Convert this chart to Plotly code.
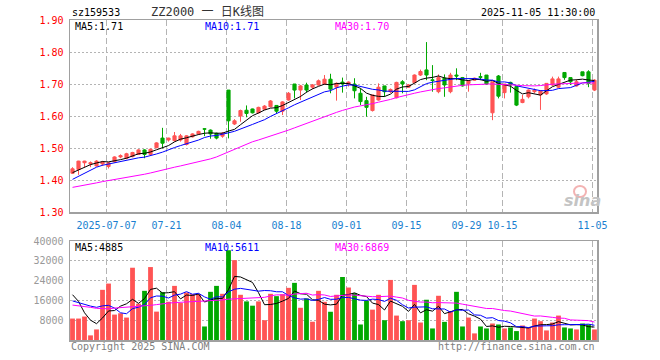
import plotly.graph_objects as go

# ---------------- data ----------------
tick_idx = [6, 16, 26, 36, 46, 56, 66, 72, 87]
tick_text = ["2025-07-07", "07-21", "08-04", "08-18", "09-01", "09-15", "09-29", "10-15", "11-05"]

opens = [1.421, 1.433, 1.454, 1.450, 1.444, 1.450, 1.442, 1.457, 1.472, 1.468,
         1.473, 1.480, 1.494, 1.480, 1.501, 1.531, 1.525, 1.523, 1.525, 1.511,
         1.535, 1.544, 1.560, 1.556, 1.546, 1.537, 1.681, 1.575, 1.600, 1.618,
         1.622, 1.610, 1.621, 1.629, 1.633, 1.615, 1.650, 1.700, 1.681, 1.697,
         1.690, 1.697, 1.700, 1.715, 1.690, 1.706, 1.700, 1.700, 1.671, 1.648,
         1.617, 1.650, 1.694, 1.676, 1.657, 1.707, 1.690, 1.704, 1.728, 1.744,
         1.713, 1.676, 1.718, 1.676, 1.728, 1.720, 1.702, 1.712, 1.723, 1.728,
         1.610, 1.725, 1.673, 1.705, 1.692, 1.642, 1.660, 1.676, 1.666, 1.669,
         1.697, 1.690, 1.736, 1.720, 1.694, 1.738, 1.738, 1.681]
highs = [1.440, 1.460, 1.460, 1.458, 1.462, 1.460, 1.456, 1.474, 1.480, 1.485,
         1.488, 1.496, 1.496, 1.498, 1.518, 1.563, 1.532, 1.550, 1.544, 1.540,
         1.546, 1.554, 1.561, 1.558, 1.548, 1.550, 1.681, 1.590, 1.620, 1.633,
         1.623, 1.629, 1.634, 1.650, 1.633, 1.646, 1.675, 1.700, 1.697, 1.704,
         1.700, 1.714, 1.728, 1.732, 1.705, 1.720, 1.708, 1.718, 1.686, 1.660,
         1.666, 1.702, 1.694, 1.686, 1.707, 1.712, 1.700, 1.730, 1.745, 1.831,
         1.759, 1.730, 1.730, 1.735, 1.749, 1.722, 1.712, 1.720, 1.735, 1.728,
         1.707, 1.728, 1.700, 1.707, 1.692, 1.666, 1.683, 1.686, 1.681, 1.702,
         1.723, 1.723, 1.736, 1.720, 1.715, 1.738, 1.743, 1.715]
lows = [1.419, 1.416, 1.440, 1.440, 1.442, 1.444, 1.436, 1.455, 1.468, 1.465,
        1.471, 1.478, 1.468, 1.478, 1.499, 1.499, 1.520, 1.520, 1.520, 1.508,
        1.533, 1.541, 1.537, 1.529, 1.527, 1.532, 1.530, 1.572, 1.582, 1.596,
        1.608, 1.608, 1.619, 1.627, 1.608, 1.603, 1.648, 1.655, 1.650, 1.673,
        1.684, 1.695, 1.697, 1.671, 1.648, 1.673, 1.692, 1.655, 1.634, 1.598,
        1.614, 1.648, 1.660, 1.672, 1.655, 1.671, 1.688, 1.702, 1.725, 1.712,
        1.676, 1.671, 1.660, 1.671, 1.712, 1.692, 1.676, 1.710, 1.712, 1.697,
        1.587, 1.655, 1.655, 1.673, 1.631, 1.640, 1.655, 1.671, 1.619, 1.666,
        1.694, 1.687, 1.713, 1.697, 1.692, 1.724, 1.690, 1.678]
closes = [1.435, 1.459, 1.459, 1.454, 1.459, 1.457, 1.454, 1.472, 1.476, 1.482,
          1.486, 1.494, 1.480, 1.496, 1.516, 1.515, 1.531, 1.538, 1.538, 1.538,
          1.544, 1.552, 1.559, 1.544, 1.531, 1.546, 1.585, 1.585, 1.617, 1.608,
          1.610, 1.627, 1.631, 1.647, 1.615, 1.644, 1.671, 1.681, 1.694, 1.681,
          1.697, 1.710, 1.715, 1.684, 1.702, 1.700, 1.706, 1.679, 1.645, 1.627,
          1.666, 1.690, 1.676, 1.683, 1.705, 1.700, 1.697, 1.728, 1.739, 1.728,
          1.711, 1.720, 1.697, 1.728, 1.725, 1.694, 1.710, 1.718, 1.721, 1.700,
          1.707, 1.662, 1.700, 1.697, 1.634, 1.652, 1.681, 1.681, 1.678, 1.702,
          1.716, 1.716, 1.720, 1.707, 1.707, 1.726, 1.702, 1.712]
volumes = [8667, 8667, 9467, 1867, 4267, 20267, 22800, 10267, 10800, 9067,
           29200, 14667, 19867, 29467, 11467, 19333, 15467, 21867, 14933, 19200,
           18533, 18533, 5467, 19467, 21867, 18667, 36267, 32267, 18267, 15600,
           13867, 15600, 8000, 18667, 17718, 18523, 21074, 23087, 13020, 16779,
           7383, 19866, 15436, 11409, 18267, 25467, 21200, 18933, 6267, 15867,
           12267, 18267, 8000, 24267, 9867, 7600, 8000, 22267, 7067, 16267,
           4667, 17867, 7333, 11600, 19467, 5467, 9067, 2667, 5467, 4667,
           6667, 6267, 4667, 5067, 3600, 5867, 5067, 8667, 7600, 3867,
           7067, 9867, 5067, 4667, 4267, 6667, 6267, 4267]

# moving-average values shown before enough bars exist in the window
ma5_head = [1.423, 1.432, 1.441, 1.448]
ma10_head = [1.402, 1.412, 1.422, 1.432, 1.440, 1.446, 1.450, 1.454, 1.457]
ma30_head = [1.377, 1.380, 1.384, 1.387, 1.391, 1.395, 1.398, 1.401, 1.404, 1.407,
             1.410, 1.414, 1.418, 1.422, 1.427, 1.432, 1.436, 1.440, 1.444, 1.448,
             1.452, 1.456, 1.460, 1.466, 1.472, 1.480, 1.490, 1.498, 1.506]
vma5_head = [18300, 15600, 11000, 8000]
vma10_head = [15800, 15000, 14500, 13700, 13200, 13800, 14000, 12900, 11000]
vma30_head = [14100, 13900, 13600, 13200, 12800, 12600, 12600, 12900, 13100, 13100,
              13200, 13400, 13700, 14000, 14300, 14700, 14900, 15100, 15300, 15400,
              15500, 15600, 15700, 15800, 16000, 16200, 16500, 16600, 16700]


def sma(vals, n, head):
    out = []
    for i in range(len(vals)):
        if i < n - 1:
            out.append(head[i])
        else:
            out.append(sum(vals[i - n + 1:i + 1]) / n)
    return out


idx = list(range(len(closes)))
ma5 = sma(closes, 5, ma5_head)
ma10 = sma(closes, 10, ma10_head)
ma30 = sma(closes, 30, ma30_head)
vma5 = sma(volumes, 5, vma5_head)
vma10 = sma(volumes, 10, vma10_head)
vma30 = sma(volumes, 30, vma30_head)

RED = "#ff5454"
GREEN = "#00a800"
vol_colors = [RED if c >= o else GREEN for o, c in zip(opens, closes)]

fig = go.Figure()
fig.add_trace(go.Candlestick(
    x=idx, open=opens, high=highs, low=lows, close=closes,
    increasing=dict(line=dict(color=RED, width=1), fillcolor=RED),
    decreasing=dict(line=dict(color=GREEN, width=1), fillcolor=GREEN),
    whiskerwidth=0, xaxis="x", yaxis="y", showlegend=False))
for vals, col in [(ma5, "black"), (ma10, "#0000ff"), (ma30, "#ff00ff")]:
    fig.add_trace(go.Scatter(x=idx, y=vals, mode="lines", line=dict(color=col, width=1),
                             xaxis="x", yaxis="y", showlegend=False))
fig.add_trace(go.Bar(x=idx, y=volumes, marker=dict(color=vol_colors, line=dict(width=0)),
                     width=0.8, xaxis="x2", yaxis="y2", showlegend=False))
for vals, col in [(vma5, "black"), (vma10, "#0000ff"), (vma30, "#ff00ff")]:
    fig.add_trace(go.Scatter(x=idx, y=vals, mode="lines", line=dict(color=col, width=1),
                             xaxis="x2", yaxis="y2", showlegend=False))

L, R, T, B = 70, 597, 20, 340
W, H = 660, 360


def px(x):
    return (x - L) / (R - L)


def py(y):
    return (B - y) / (B - T)


FONT = "DejaVu Sans Mono, Liberation Mono, monospace"
FRAME = "#a0a0a0"
GRID = "#b4b4b4"
xr = [-0.42, len(closes) - 1 + 0.42]
tv = [i - 0.33 for i in tick_idx]

common_x = dict(range=xr, tickvals=tv, showgrid=True, gridcolor=GRID, gridwidth=1,
                griddash="6px,3px", showline=True, mirror=True, linecolor=FRAME,
                linewidth=1.5, zeroline=False, fixedrange=True)
fig.update_layout(
    width=W, height=H, paper_bgcolor="white", plot_bgcolor="white",
    margin=dict(l=L, r=W - R, t=T, b=H - B),
    font=dict(family=FONT, size=10),
    boxgap=0.25, bargap=0.2, hovermode=False,
    xaxis=dict(domain=[0, 1], anchor="y", ticktext=tick_text, ticks="outside", ticklen=3,
               tickcolor="rgba(0,0,0,0)", tickfont=dict(color="#1a7fd0", size=10),
               rangeslider=dict(visible=False), **common_x),
    yaxis=dict(domain=[py(212), 1], anchor="x", range=[1.30, 1.90],
               tickvals=[1.30, 1.40, 1.50, 1.60, 1.70, 1.80, 1.90],
               ticktext=["1.30", "1.40", "1.50", "1.60", "1.70", "1.80", "1.90"],
               tickfont=dict(color="#ff0000", size=10), ticks="outside", ticklen=3,
               tickcolor="rgba(0,0,0,0)", showgrid=True, gridcolor=GRID,
               griddash="2px,2px", showline=True, mirror=True, linecolor=FRAME,
               linewidth=1.5, zeroline=False, fixedrange=True),
    xaxis2=dict(domain=[0, 1], anchor="y2", showticklabels=False, ticks="", **common_x),
    yaxis2=dict(domain=[0, py(241)], anchor="x2", range=[0, 40000],
                tickvals=[8000, 16000, 24000, 32000, 40000],
                ticktext=["8000", "16000", "24000", "32000", "40000"],
                tickfont=dict(color="#999999", size=10), ticks="outside", ticklen=3,
                tickcolor="rgba(0,0,0,0)", showgrid=True, gridcolor=GRID,
                griddash="2px,2px", showline=True, mirror=True, linecolor=FRAME,
                linewidth=1.5, zeroline=False, fixedrange=True),
)


def txt(x, y, s, color="black", anchor="left", size=10, family=FONT, **kw):
    fig.add_annotation(x=px(x), y=py(y), xref="paper", yref="paper", text=s,
                       showarrow=False, xanchor=anchor, yanchor="middle",
                       font=dict(color=color, size=size, family=family), **kw)


txt(70, 13, "sz159533")
txt(207, 12, "ZZ2000 一 日K线图", color="#333333", anchor="center", size=12,
    family="DejaVu Sans Mono, Noto Sans CJK SC")
txt(597, 13, "2025-11-05 11:30:00", anchor="right")
txt(73, 26, "MA5:%.2f" % ma5[-1])
txt(203, 26, "MA10:%.2f" % ma10[-1], color="#0000ff")
txt(333, 26, "MA30:%.2f" % ma30[-1], color="#ff00ff")
txt(73, 247, "MA5:4885")
txt(203, 247, "MA10:5611", color="#0000ff")
txt(333, 247, "MA30:6869", color="#ff00ff")
txt(69, 346, "Copyright 2025 SINA.COM", color="#808080")
txt(597, 346, "http://finance.sina.com.cn", color="#808080", anchor="right")

# sina watermark
fig.add_shape(type="circle", xref="paper", yref="paper", x0=px(574), x1=px(586),
              y0=py(197), y1=py(186), line=dict(color="#f3b3b3", width=2))
txt(582, 200, "<b><i>sina</i></b>", color="#c4c4c4", anchor="center", size=16,
    family="DejaVu Sans, Liberation Sans")

fig.write_html("out.html", config={"displayModeBar": False, "staticPlot": True},
               post_script="document.body.style.margin='0px';document.body.style.padding='0px';")
